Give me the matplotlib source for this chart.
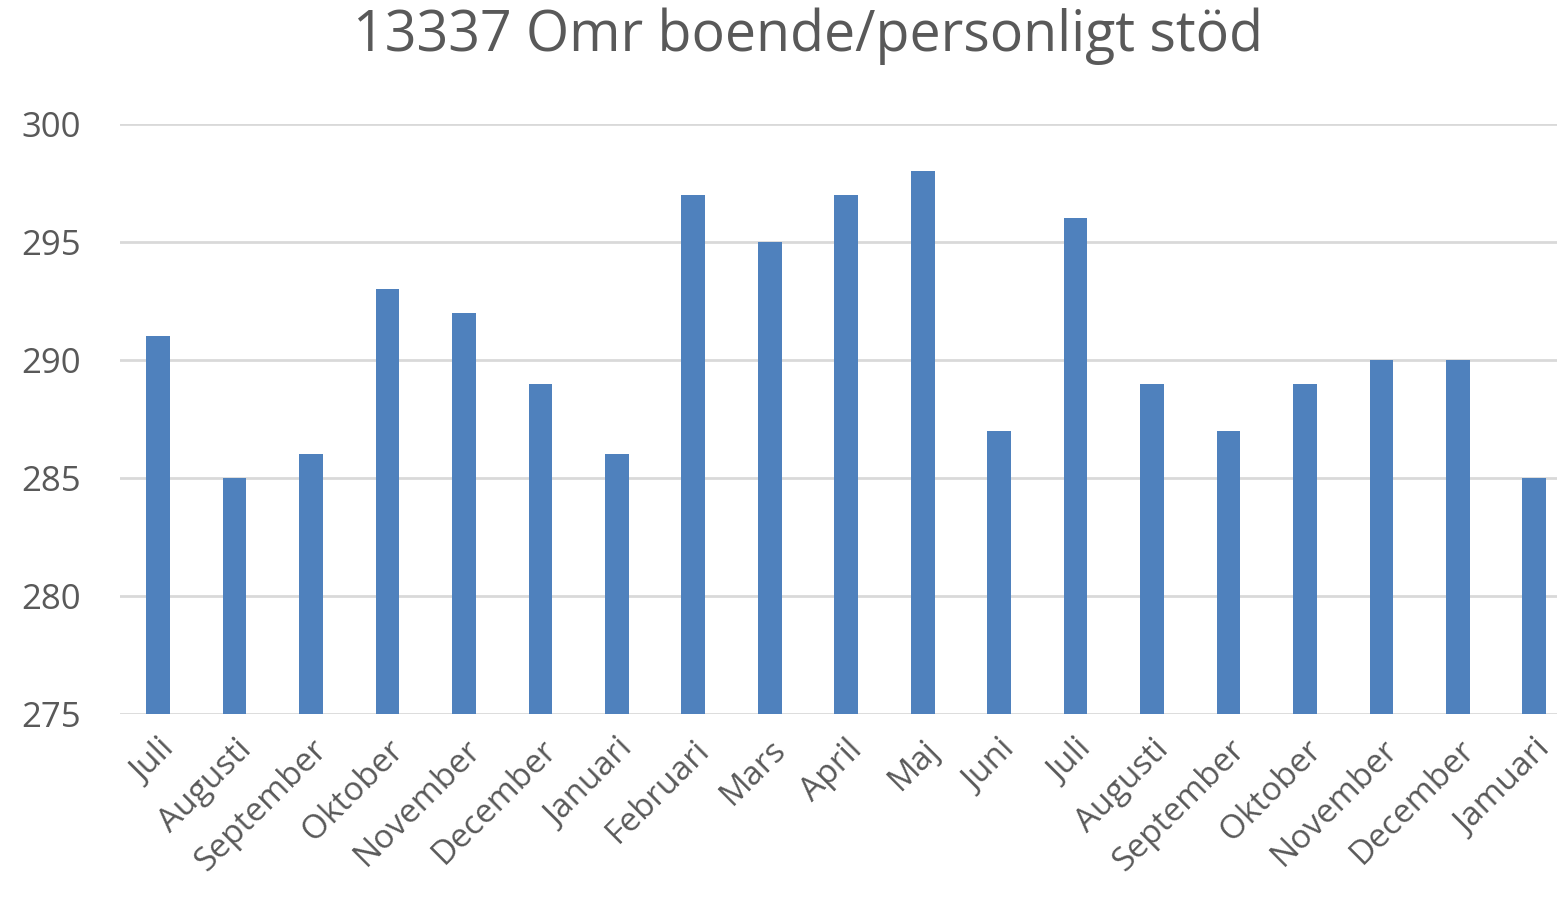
import matplotlib
matplotlib.use('Agg')
import matplotlib.pyplot as plt

# data
months = ['Juli', 'Augusti', 'September', 'Oktober', 'November', 'December',
          'Januari', 'Februari', 'Mars', 'April', 'Maj', 'Juni', 'Juli',
          'Augusti', 'September', 'Oktober', 'November', 'December', 'Jamuari']
values = [291, 285, 286, 293, 292, 289, 286, 297, 295, 297, 298, 287, 296,
          289, 287, 289, 290, 290, 285]
yticks = [275, 280, 285, 290, 295, 300]

plt.rcParams['font.family'] = ['Open Sans', 'DejaVu Sans']
txt = '#595959'

fig = plt.figure(figsize=(15.57, 8.98), dpi=100)
ax = fig.add_axes([0.077, 0.205, 0.933, 0.657])

x = range(len(values))
ax.bar(x, [v - 275 for v in values], bottom=275, width=0.31, color='#4F81BD', zorder=3)

ax.set_xlim(-0.5, len(values) - 0.5)
ax.set_ylim(275, 300)
ax.set_yticks(yticks)
ax.set_yticklabels([str(t) for t in yticks], fontsize=25, color=txt)
ax.set_xticks(list(x))
ax.set_xticklabels(months, rotation=45, ha='right', rotation_mode='anchor',
                   fontsize=24, color=txt)
ax.tick_params(length=0, pad=14)
ax.tick_params(axis='y', pad=28)
ax.grid(axis='y', color='#D9D9D9', lw=2, zorder=0)
for s in ax.spines.values():
    s.set_visible(False)

fig.text(0.519, 0.96, '13337 Omr boende/personligt stöd', ha='center', va='center',
         fontsize=40, color=txt)

fig.savefig('out.png', dpi=100)
